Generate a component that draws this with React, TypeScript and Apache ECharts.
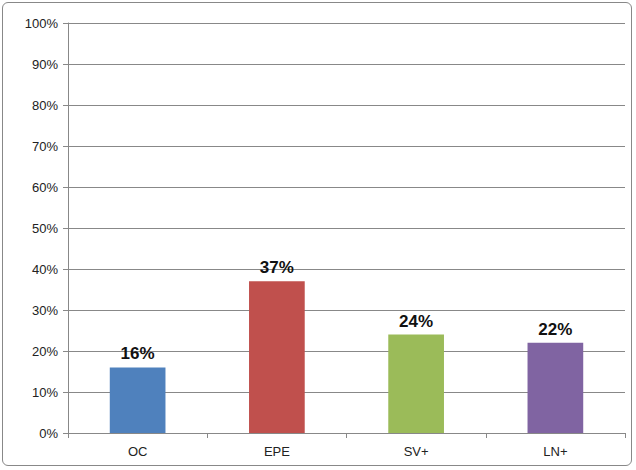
import React, { useEffect, useRef } from 'react'
import * as echarts from 'echarts'

const categories = ['OC', 'EPE', 'SV+', 'LN+']
const values = [16, 37, 24, 22]
const colors = ['#4F81BD', '#C0504D', '#9BBB59', '#8064A2']

const App: React.FC = () => {
  const ref = useRef<HTMLDivElement>(null)

  useEffect(() => {
    document.body.style.margin = '0'
    if (!ref.current) return
    const chart = echarts.init(ref.current, undefined, { renderer: 'svg' })
    chart.setOption({
      animation: false,
      backgroundColor: '#fff',
      grid: { left: 68, right: 11, top: 23, bottom: 37 },
      xAxis: {
        type: 'category',
        data: categories,
        axisLine: { lineStyle: { color: '#888' } },
        axisTick: { show: true, alignWithLabel: false, lineStyle: { color: '#888' } },
        axisLabel: { color: '#222', fontSize: 13, fontFamily: 'Liberation Sans', margin: 12 }
      },
      yAxis: {
        type: 'value',
        min: 0,
        max: 100,
        interval: 10,
        axisLine: { show: true, lineStyle: { color: '#888' } },
        axisTick: { show: true, lineStyle: { color: '#888' } },
        splitLine: { lineStyle: { color: '#888' } },
        axisLabel: { formatter: '{value}%', color: '#222', fontSize: 13, fontFamily: 'Liberation Sans', margin: 10 }
      },
      series: [
        {
          type: 'bar',
          barWidth: '40%',
          data: values.map((v, i) => ({ value: v, itemStyle: { color: colors[i] } })),
          label: {
            show: true,
            position: 'top',
            formatter: '{c}%',
            fontSize: 17,
            fontWeight: 'bold',
            color: '#111',
            fontFamily: 'Liberation Sans'
          }
        }
      ]
    })
    return () => chart.dispose()
  }, [])

  return (
    <div style={{ width: 636, height: 470, position: 'relative' }}>
      <div ref={ref} style={{ width: 636, height: 470 }} />
      <div style={{ position: 'absolute', left: 2, top: 2, width: 628, height: 462, border: '1px solid #888', borderRadius: 6, pointerEvents: 'none' }} />
    </div>
  )
}

export default App
